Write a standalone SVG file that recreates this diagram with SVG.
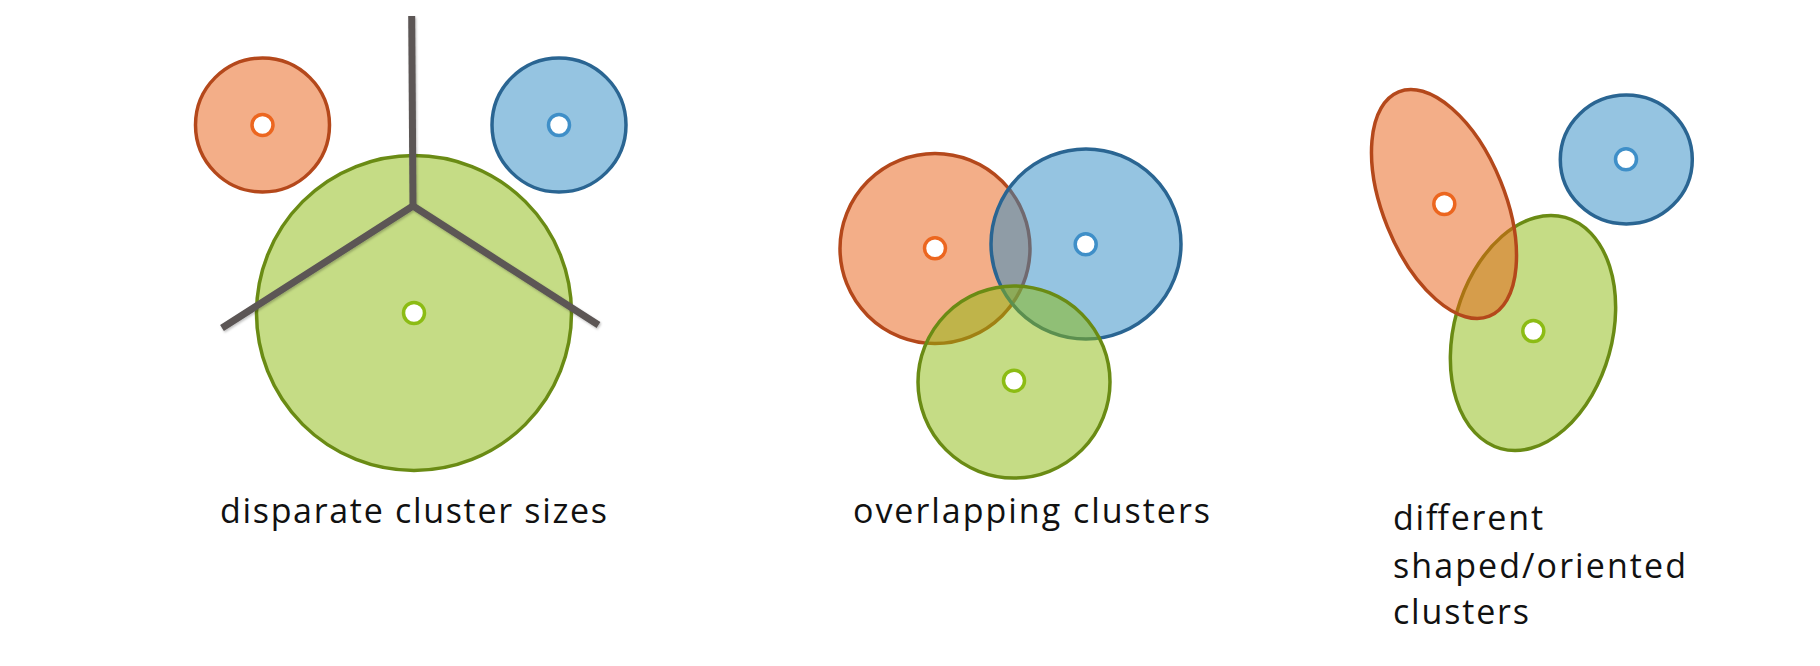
<svg xmlns="http://www.w3.org/2000/svg" width="1820" height="666" viewBox="0 0 1820 666">
  <defs>
    <filter id="shadow" x="-10%" y="-10%" width="120%" height="120%">
      <feDropShadow dx="1" dy="1.5" stdDeviation="1.2" flood-color="#000" flood-opacity="0.25"/>
    </filter>
    <style>
      .c { stroke-width: 3.5; fill-opacity: 0.5; }
      .o { fill: #e75d11; stroke: #b4481b; }
      .b { fill: #2b89c3; stroke: #2a6592; }
      .g { fill: #8bb90b; stroke: #6a8b14; }
      .dot { fill: #fff; stroke-width: 3.5; }
      .do { stroke: #ec661f; }
      .db { stroke: #3f8fc8; }
      .dg { stroke: #8cbc14; }
      .lbl { font-family: "Open Sans", "Noto Sans", sans-serif; font-size: 34px; fill: #111; }
      .edge { fill: none; stroke: #5b5655; stroke-width: 7; stroke-linecap: butt; stroke-linejoin: miter; }
    </style>
  </defs>
  <rect width="1820" height="666" fill="#fff"/>

  <!-- Panel 1: disparate cluster sizes -->
  <g id="p1-orange">
    <circle class="c o" cx="262.5" cy="125" r="67"/>
    <circle class="dot do" cx="262.5" cy="125" r="10.5"/>
  </g>
  <g id="p1-blue">
    <circle class="c b" cx="559" cy="125" r="67"/>
    <circle class="dot db" cx="559" cy="125" r="10.5"/>
  </g>
  <g id="p1-green">
    <circle class="c g" cx="414" cy="313" r="157.5"/>
    <circle class="dot dg" cx="414" cy="313" r="10.5"/>
  </g>
  <g id="connectors" filter="url(#shadow)">
    <path class="edge" d="M411.7,16 L413,206"/>
    <path class="edge" d="M222,328 L413,206 L598.5,325"/>
  </g>
  <g id="label1">
    <text class="lbl" x="220" y="523" textLength="387" lengthAdjust="spacing">disparate cluster sizes</text>
  </g>

  <!-- Panel 2: overlapping clusters -->
  <g id="p2-orange">
    <circle class="c o" cx="935" cy="248.5" r="95"/>
  </g>
  <g id="p2-blue">
    <circle class="c b" cx="1086" cy="244" r="95"/>
  </g>
  <g id="p2-green">
    <circle class="c g" cx="1014" cy="382" r="96"/>
  </g>
  <g id="p2-dots">
    <circle class="dot do" cx="935" cy="248.3" r="10.5"/>
    <circle class="dot db" cx="1085.7" cy="244.3" r="10.5"/>
    <circle class="dot dg" cx="1014" cy="380.7" r="10.5"/>
  </g>
  <g id="label2">
    <text class="lbl" x="853" y="523" textLength="357" lengthAdjust="spacing">overlapping clusters</text>
  </g>

  <!-- Panel 3: different shaped/oriented clusters -->
  <g id="p3-blue">
    <ellipse class="c b" cx="1626.3" cy="159.5" rx="66" ry="64.5"/>
    <circle class="dot db" cx="1626" cy="159.3" r="10.5"/>
  </g>
  <g id="p3-green">
    <ellipse class="c g" cx="1533" cy="333" rx="79" ry="120" transform="rotate(15.6 1533 333)"/>
  </g>
  <g id="p3-orange">
    <ellipse class="c o" cx="1444" cy="204" rx="61" ry="121" transform="rotate(-22 1444 204)"/>
  </g>
  <g id="p3-dots">
    <circle class="dot do" cx="1444.3" cy="204" r="10.5"/>
    <circle class="dot dg" cx="1533.3" cy="331" r="10.5"/>
  </g>
  <g id="label3">
    <text class="lbl" x="1393" y="530" textLength="150" lengthAdjust="spacing">different</text>
    <text class="lbl" x="1393" y="578" textLength="293" lengthAdjust="spacing">shaped/oriented</text>
    <text class="lbl" x="1393" y="624" textLength="136" lengthAdjust="spacing">clusters</text>
  </g>
</svg>
